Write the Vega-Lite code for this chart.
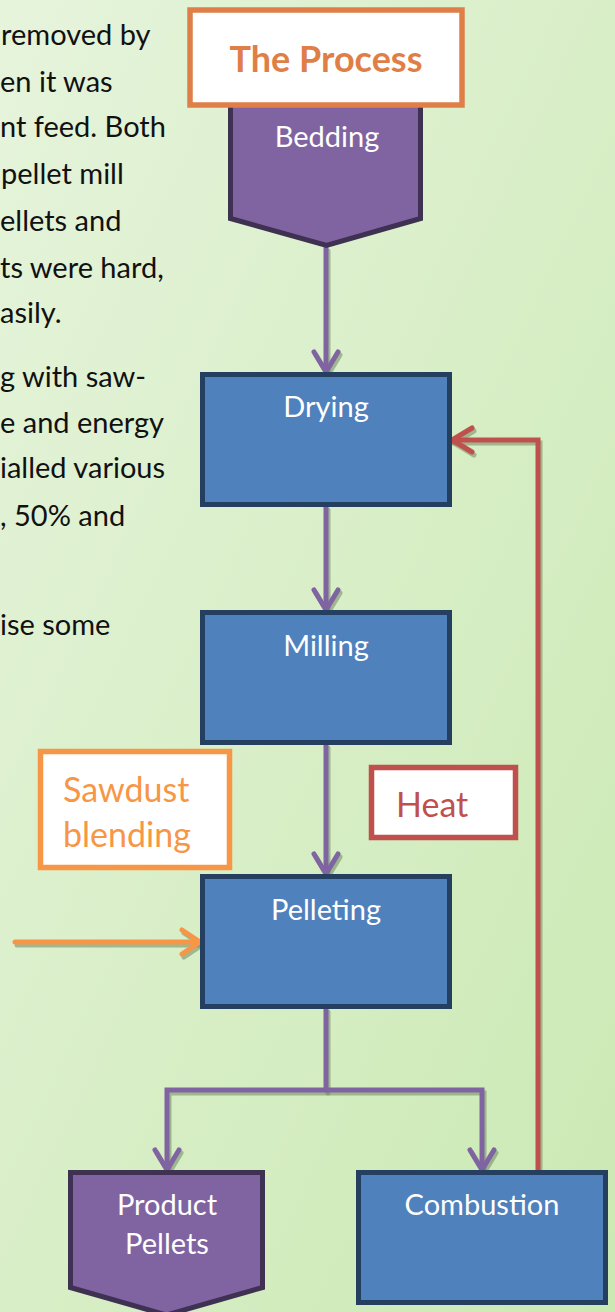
{
  "$schema": "https://vega.github.io/schema/vega-lite/v6.json",
  "width": 615,
  "height": 1312,
  "autosize": {"type": "none"},
  "padding": 0,
  "background": "#d9efc8",
  "config": {"view": {"stroke": null}},
  "datasets": {
    "bg": [{"x": 0, "x2": 615, "y": 0, "y2": 1312}],
    "links": [
      {"seg": "L1", "flow": "material", "i": 0, "x": 326, "y": 248},
      {"seg": "L1", "flow": "material", "i": 1, "x": 326, "y": 372},
      {"seg": "H1", "flow": "material", "i": 0, "x": 314, "y": 352},
      {"seg": "H1", "flow": "material", "i": 1, "x": 326, "y": 372},
      {"seg": "H1", "flow": "material", "i": 2, "x": 338, "y": 352},
      {"seg": "L2", "flow": "material", "i": 0, "x": 326, "y": 507},
      {"seg": "L2", "flow": "material", "i": 1, "x": 326, "y": 610},
      {"seg": "H2", "flow": "material", "i": 0, "x": 314, "y": 590},
      {"seg": "H2", "flow": "material", "i": 1, "x": 326, "y": 610},
      {"seg": "H2", "flow": "material", "i": 2, "x": 338, "y": 590},
      {"seg": "L3", "flow": "material", "i": 0, "x": 326, "y": 745},
      {"seg": "L3", "flow": "material", "i": 1, "x": 326, "y": 874},
      {"seg": "H3", "flow": "material", "i": 0, "x": 314, "y": 854},
      {"seg": "H3", "flow": "material", "i": 1, "x": 326, "y": 874},
      {"seg": "H3", "flow": "material", "i": 2, "x": 338, "y": 854},
      {"seg": "L4", "flow": "material", "i": 0, "x": 326, "y": 1009},
      {"seg": "L4", "flow": "material", "i": 1, "x": 326, "y": 1090},
      {"seg": "L5", "flow": "material", "i": 0, "x": 167, "y": 1170},
      {"seg": "L5", "flow": "material", "i": 1, "x": 167, "y": 1090},
      {"seg": "L5", "flow": "material", "i": 2, "x": 482, "y": 1090},
      {"seg": "L5", "flow": "material", "i": 3, "x": 482, "y": 1170},
      {"seg": "H5", "flow": "material", "i": 0, "x": 155, "y": 1150},
      {"seg": "H5", "flow": "material", "i": 1, "x": 167, "y": 1170},
      {"seg": "H5", "flow": "material", "i": 2, "x": 179, "y": 1150},
      {"seg": "H6", "flow": "material", "i": 0, "x": 470, "y": 1150},
      {"seg": "H6", "flow": "material", "i": 1, "x": 482, "y": 1170},
      {"seg": "H6", "flow": "material", "i": 2, "x": 494, "y": 1150},
      {"seg": "R1", "flow": "heat", "i": 0, "x": 538, "y": 1170},
      {"seg": "R1", "flow": "heat", "i": 1, "x": 538, "y": 440},
      {"seg": "R1", "flow": "heat", "i": 2, "x": 452, "y": 440},
      {"seg": "RH", "flow": "heat", "i": 0, "x": 472, "y": 428},
      {"seg": "RH", "flow": "heat", "i": 1, "x": 452, "y": 440},
      {"seg": "RH", "flow": "heat", "i": 2, "x": 472, "y": 452},
      {"seg": "O1", "flow": "sawdust", "i": 0, "x": 15, "y": 942},
      {"seg": "O1", "flow": "sawdust", "i": 1, "x": 200, "y": 942},
      {"seg": "OH", "flow": "sawdust", "i": 0, "x": 182, "y": 930},
      {"seg": "OH", "flow": "sawdust", "i": 1, "x": 200, "y": 942},
      {"seg": "OH", "flow": "sawdust", "i": 2, "x": 182, "y": 954}
    ],
    "pent": [
      {"name": "Bedding", "x": 230.5, "top": 60, "bottom": 218.5},
      {"name": "Bedding", "x": 326.5, "top": 60, "bottom": 245.5},
      {"name": "Bedding", "x": 420.5, "top": 60, "bottom": 218.5},
      {"name": "Product Pellets", "x": 70.5, "top": 1172.5, "bottom": 1287.5},
      {"name": "Product Pellets", "x": 166.5, "top": 1172.5, "bottom": 1315},
      {"name": "Product Pellets", "x": 262.5, "top": 1172.5, "bottom": 1287.5}
    ],
    "procs": [
      {"name": "Drying", "x": 202.5, "x2": 449.5, "y": 374.5, "y2": 504.5},
      {"name": "Milling", "x": 202.5, "x2": 449.5, "y": 612.5, "y2": 742.5},
      {"name": "Pelleting", "x": 202.5, "x2": 449.5, "y": 876.5, "y2": 1006.5},
      {"name": "Combustion", "x": 358.5, "x2": 605.5, "y": 1172.5, "y2": 1302.5}
    ],
    "tags": [
      {"name": "The Process", "x": 190, "x2": 462, "y": 10, "y2": 105},
      {"name": "Sawdust blending", "x": 40.5, "x2": 229.5, "y": 751.5, "y2": 867.5},
      {"name": "Heat", "x": 371.5, "x2": 515.5, "y": 767.5, "y2": 837.5}
    ],
    "body": [
      {"t": "removed by", "x": 1, "y": 45},
      {"t": "en it was", "x": 0, "y": 92},
      {"t": "nt feed. Both", "x": 0, "y": 137},
      {"t": "pellet mill", "x": 1, "y": 184},
      {"t": "ellets and", "x": 0, "y": 231},
      {"t": "ts were hard,", "x": 0, "y": 278},
      {"t": "asily.", "x": 0, "y": 323},
      {"t": "g with saw-", "x": 0, "y": 387},
      {"t": "e and energy", "x": 0, "y": 433},
      {"t": "ialled various", "x": 0, "y": 478},
      {"t": ", 50% and", "x": 0, "y": 526},
      {"t": "ise some", "x": 0, "y": 635}
    ],
    "nodeLabels": [
      {"t": "Bedding", "x": 327, "y": 147},
      {"t": "Drying", "x": 326, "y": 417},
      {"t": "Milling", "x": 326, "y": 656},
      {"t": "Pelleting", "x": 326, "y": 920},
      {"t": "Product", "x": 167, "y": 1215},
      {"t": "Pellets", "x": 167, "y": 1254},
      {"t": "Combustion", "x": 482, "y": 1215}
    ],
    "sawdustText": [
      {"t": "Sawdust", "x": 63, "y": 802},
      {"t": "blending", "x": 63, "y": 847}
    ]
  },
  "layer": [
    {
      "data": {"name": "bg"},
      "mark": {"type": "rect", "fill": {"gradient": "linear", "x1": 0, "y1": 0, "x2": 1, "y2": 1, "stops": [{"offset": 0, "color": "#e6f4dc"}, {"offset": 1, "color": "#cbe9b3"}]}},
      "encoding": {
        "x": {"field": "x", "type": "quantitative", "scale": {"domain": [0, 615], "nice": false, "zero": false}, "axis": null},
        "x2": {"field": "x2"},
        "y": {"field": "y", "type": "quantitative", "scale": {"domain": [0, 1312], "nice": false, "zero": false, "reverse": true}, "axis": null},
        "y2": {"field": "y2"}
      }
    },
    {
      "data": {"name": "links"},
      "mark": {"type": "line", "strokeWidth": 5, "color": "#6f8a60", "opacity": 0.55, "xOffset": 2, "yOffset": 3, "strokeJoin": "miter", "strokeCap": "round"},
      "encoding": {
        "x": {"field": "x", "type": "quantitative", "scale": {"domain": [0, 615], "nice": false, "zero": false}, "axis": null},
        "y": {"field": "y", "type": "quantitative", "scale": {"domain": [0, 1312], "nice": false, "zero": false, "reverse": true}, "axis": null},
        "detail": {"field": "seg", "type": "nominal"},
        "order": {"field": "i", "type": "quantitative"}
      }
    },
    {
      "data": {"name": "links"},
      "mark": {"type": "line", "strokeWidth": 5, "strokeJoin": "miter", "strokeCap": "round"},
      "encoding": {
        "x": {"field": "x", "type": "quantitative", "scale": {"domain": [0, 615], "nice": false, "zero": false}, "axis": null},
        "y": {"field": "y", "type": "quantitative", "scale": {"domain": [0, 1312], "nice": false, "zero": false, "reverse": true}, "axis": null},
        "detail": {"field": "seg", "type": "nominal"},
        "order": {"field": "i", "type": "quantitative"},
        "color": {"field": "flow", "type": "nominal", "scale": {"domain": ["material", "heat", "sawdust"], "range": ["#8064a2", "#c0504d", "#f79646"]}, "legend": null}
      }
    },
    {
      "data": {"name": "pent"},
      "mark": {"type": "area", "fill": "#8064a2", "stroke": "#3f3151", "strokeWidth": 5, "strokeJoin": "miter", "opacity": 1, "fillOpacity": 1},
      "encoding": {
        "x": {"field": "x", "type": "quantitative", "scale": {"domain": [0, 615], "nice": false, "zero": false}, "axis": null},
        "y": {"field": "top", "type": "quantitative", "stack": null, "scale": {"domain": [0, 1312], "nice": false, "zero": false, "reverse": true}, "axis": null},
        "y2": {"field": "bottom"},
        "detail": {"field": "name", "type": "nominal"}
      }
    },
    {
      "data": {"name": "procs"},
      "mark": {"type": "rect", "fill": "#4f81bd", "stroke": "#243f60", "strokeWidth": 5, "strokeJoin": "miter"},
      "encoding": {
        "x": {"field": "x", "type": "quantitative", "scale": {"domain": [0, 615], "nice": false, "zero": false}, "axis": null},
        "x2": {"field": "x2"},
        "y": {"field": "y", "type": "quantitative", "scale": {"domain": [0, 1312], "nice": false, "zero": false, "reverse": true}, "axis": null},
        "y2": {"field": "y2"}
      }
    },
    {
      "data": {"name": "tags"},
      "mark": {"type": "rect", "fill": "#ffffff", "strokeWidth": 5.5, "strokeJoin": "miter"},
      "encoding": {
        "x": {"field": "x", "type": "quantitative", "scale": {"domain": [0, 615], "nice": false, "zero": false}, "axis": null},
        "x2": {"field": "x2"},
        "y": {"field": "y", "type": "quantitative", "scale": {"domain": [0, 1312], "nice": false, "zero": false, "reverse": true}, "axis": null},
        "y2": {"field": "y2"},
        "stroke": {"field": "name", "type": "nominal", "scale": {"domain": ["The Process", "Sawdust blending", "Heat"], "range": ["#df7f47", "#f79646", "#c0504d"]}, "legend": null}
      }
    },
    {
      "data": {"name": "body"},
      "mark": {"type": "text", "align": "left", "baseline": "alphabetic", "font": "Lato", "fontSize": 29, "color": "#111111"},
      "encoding": {
        "x": {"field": "x", "type": "quantitative", "scale": {"domain": [0, 615], "nice": false, "zero": false}, "axis": null},
        "y": {"field": "y", "type": "quantitative", "scale": {"domain": [0, 1312], "nice": false, "zero": false, "reverse": true}, "axis": null},
        "text": {"field": "t"}
      }
    },
    {
      "data": {"name": "nodeLabels"},
      "mark": {"type": "text", "align": "center", "baseline": "alphabetic", "font": "Lato", "fontSize": 29, "color": "#ffffff"},
      "encoding": {
        "x": {"field": "x", "type": "quantitative", "scale": {"domain": [0, 615], "nice": false, "zero": false}, "axis": null},
        "y": {"field": "y", "type": "quantitative", "scale": {"domain": [0, 1312], "nice": false, "zero": false, "reverse": true}, "axis": null},
        "text": {"field": "t"}
      }
    },
    {
      "data": {"values": [{"t": "The Process", "x": 326, "y": 72}]},
      "mark": {"type": "text", "align": "center", "baseline": "alphabetic", "font": "Lato", "fontWeight": "bold", "fontSize": 36, "color": "#df7f47"},
      "encoding": {
        "x": {"field": "x", "type": "quantitative", "scale": {"domain": [0, 615], "nice": false, "zero": false}, "axis": null},
        "y": {"field": "y", "type": "quantitative", "scale": {"domain": [0, 1312], "nice": false, "zero": false, "reverse": true}, "axis": null},
        "text": {"field": "t"}
      }
    },
    {
      "data": {"name": "sawdustText"},
      "mark": {"type": "text", "align": "left", "baseline": "alphabetic", "font": "Lato", "fontSize": 34, "color": "#f79646"},
      "encoding": {
        "x": {"field": "x", "type": "quantitative", "scale": {"domain": [0, 615], "nice": false, "zero": false}, "axis": null},
        "y": {"field": "y", "type": "quantitative", "scale": {"domain": [0, 1312], "nice": false, "zero": false, "reverse": true}, "axis": null},
        "text": {"field": "t"}
      }
    },
    {
      "data": {"values": [{"t": "Heat", "x": 396, "y": 817}]},
      "mark": {"type": "text", "align": "left", "baseline": "alphabetic", "font": "Lato", "fontSize": 34, "color": "#c0504d"},
      "encoding": {
        "x": {"field": "x", "type": "quantitative", "scale": {"domain": [0, 615], "nice": false, "zero": false}, "axis": null},
        "y": {"field": "y", "type": "quantitative", "scale": {"domain": [0, 1312], "nice": false, "zero": false, "reverse": true}, "axis": null},
        "text": {"field": "t"}
      }
    }
  ]
}
